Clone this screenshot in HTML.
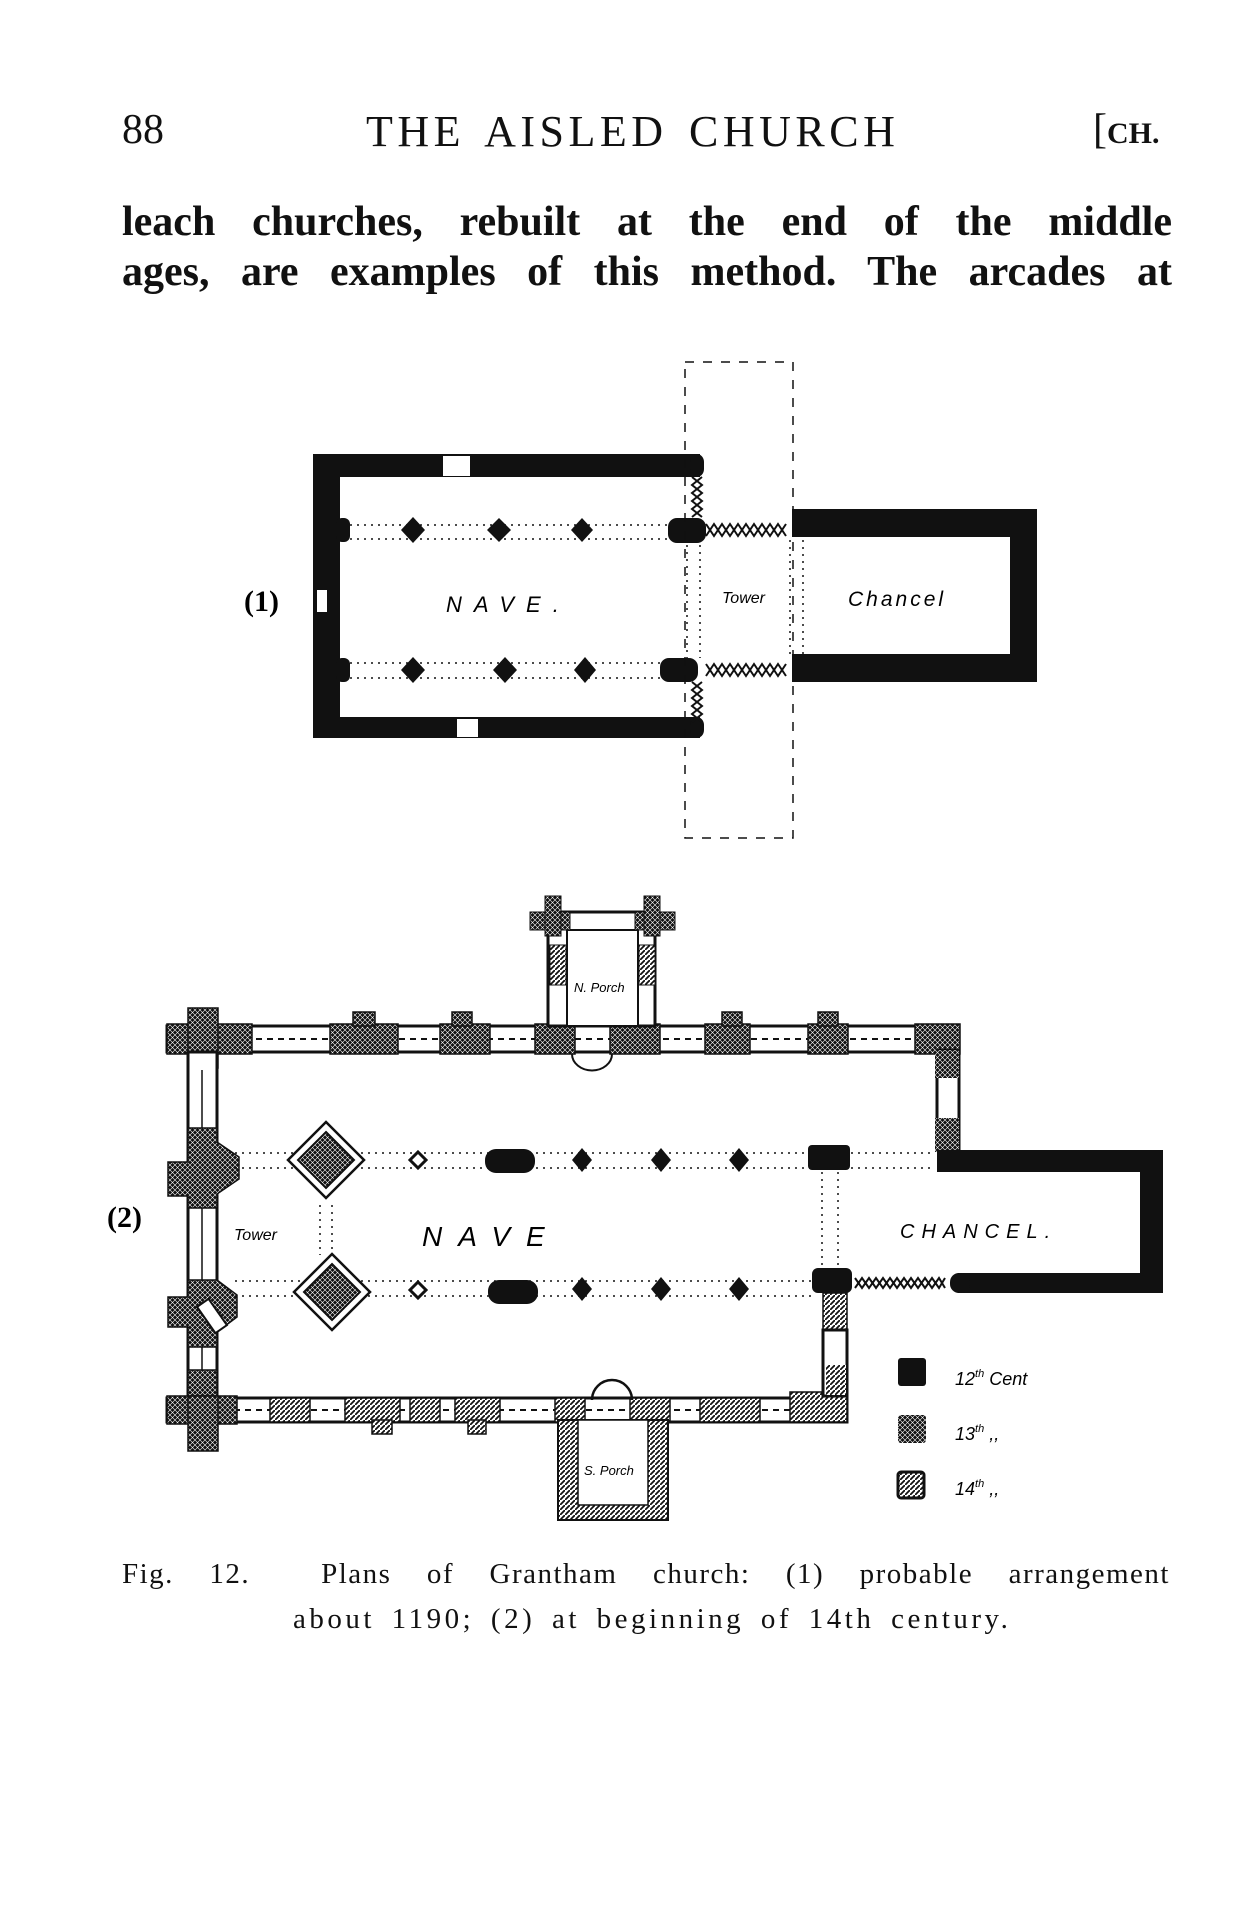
<!DOCTYPE html>
<html><head><meta charset="utf-8"><style>
html,body{margin:0;padding:0;background:#fff;}
body{width:1250px;height:1918px;overflow:hidden;position:relative;font-family:"Liberation Serif",serif;color:#111;}
.t{position:absolute;white-space:nowrap;}
</style></head><body>
<div class="t" style="left:122px;top:106px;font-size:42px;">88</div>
<div class="t" style="left:366px;top:106px;font-size:44px;letter-spacing:4.5px;word-spacing:6px;">THE AISLED CHURCH</div>
<div class="t" style="left:1093px;top:106px;font-size:42px;">[<span style="font-size:30px;font-weight:bold">CH.</span></div>
<div class="t" style="left:122px;top:198px;font-size:42px;font-weight:bold;width:1050px;text-align:justify;text-align-last:justify;white-space:normal;">leach churches, rebuilt at the end of the middle</div>
<div class="t" style="left:122px;top:248px;font-size:42px;font-weight:bold;width:1050px;text-align:justify;text-align-last:justify;white-space:normal;">ages, are examples of this method. The arcades at</div>

<svg width="1250" height="1918" style="position:absolute;left:0;top:0" xmlns="http://www.w3.org/2000/svg">
<defs>
<pattern id="xh" width="5" height="5" patternUnits="userSpaceOnUse"><rect width="5" height="5" fill="#111"/><path d="M0,0L5,5M5,0L0,5" stroke="#fff" stroke-width="0.6"/></pattern>
<pattern id="dh" width="5" height="5" patternUnits="userSpaceOnUse"><rect width="5" height="5" fill="#fff"/><path d="M-1,6L6,-1" stroke="#111" stroke-width="1.8"/></pattern>
</defs>
<g font-family="Liberation Sans, sans-serif" font-style="italic">
<!-- FIG 1 -->
<path d="M313,454H700V477H340V717H700V738H313Z" fill="#111"/>
<rect x="690" y="454" width="14" height="23" rx="8" fill="#111"/>
<rect x="690" y="717" width="14" height="21" rx="8" fill="#111"/>
<rect x="443" y="456" width="27" height="20" fill="#fff"/>
<rect x="457" y="719" width="21" height="18" fill="#fff"/>
<rect x="317" y="590" width="10" height="22" fill="#fff"/>
<rect x="336" y="518" width="14" height="24" rx="6" fill="#111"/>
<rect x="336" y="658" width="14" height="24" rx="6" fill="#111"/>
<g stroke="#111" stroke-width="1.5" stroke-dasharray="2,5" fill="none">
<path d="M350,525H668M350,539H668M350,663H660M350,678H660"/>
<path d="M687,545V658M700,545V658M790,540V654M803,540V654"/>
</g>
<g fill="#111">
<path d="M413,517l12,13l-12,13l-12,-13z"/><path d="M499,518l12,12l-12,12l-12,-12z"/><path d="M582,518l11,12l-11,12l-11,-12z"/>
<path d="M413,657l12,13l-12,13l-12,-13z"/><path d="M505,657l12,13l-12,13l-12,-13z"/><path d="M585,657l11,13l-11,13l-11,-13z"/>
<rect x="668" y="518" width="38" height="25" rx="9"/>
<rect x="660" y="658" width="38" height="24" rx="9"/>
<path d="M792,537V509H1037V682H792V654H1010V537Z"/>
</g>
<g stroke="#111" stroke-width="2" fill="none">
<path d="M706,524l8,12l8,-12l8,12l8,-12l8,12l8,-12l8,12l8,-12l8,12l8,-12"/>
<path d="M706,536l8,-12l8,12l8,-12l8,12l8,-12l8,12l8,-12l8,12l8,-12l8,12"/>
<path d="M706,664l8,12l8,-12l8,12l8,-12l8,12l8,-12l8,12l8,-12l8,12l8,-12"/>
<path d="M706,676l8,-12l8,12l8,-12l8,12l8,-12l8,12l8,-12l8,12l8,-12l8,12"/>
<path d="M692,477l10,8l-10,8l10,8l-10,8l10,8"/><path d="M702,477l-10,8l10,8l-10,8l10,8l-10,8"/>
<path d="M692,682l10,8l-10,8l10,8l-10,8l10,8"/><path d="M702,682l-10,8l10,8l-10,8l10,8l-10,8"/>
</g>
<g stroke="#111" stroke-width="1.5" stroke-dasharray="9,9" fill="none">
<path d="M685,362H793V838H685Z"/>
</g>
<text x="244" y="611" font-family="Liberation Serif, serif" font-style="normal" font-size="30" font-weight="bold">(1)</text>
<text x="446" y="612" font-size="22" letter-spacing="12">NAVE.</text>
<text x="722" y="603" font-size="16">Tower</text>
<text x="848" y="606" font-size="21" letter-spacing="3">Chancel</text>

<!-- FIG 2 -->
<rect x="167" y="1026" width="790" height="26" fill="#fff" stroke="#111" stroke-width="3"/>
<path d="M190,1039H950" stroke="#111" stroke-width="2" stroke-dasharray="6,5"/>
<g fill="url(#xh)" stroke="#111" stroke-width="1.5">
<rect x="167" y="1024" width="85" height="30"/>
<rect x="188" y="1008" width="30" height="60"/>
<rect x="330" y="1024" width="68" height="30"/><rect x="353" y="1012" width="22" height="14"/>
<rect x="440" y="1024" width="50" height="30"/><rect x="452" y="1012" width="20" height="14"/>
<rect x="535" y="1024" width="40" height="30"/>
<rect x="610" y="1024" width="50" height="30"/>
<rect x="705" y="1024" width="45" height="30"/><rect x="722" y="1012" width="20" height="14"/>
<rect x="808" y="1024" width="40" height="30"/><rect x="818" y="1012" width="20" height="14"/>
<rect x="915" y="1024" width="45" height="30"/>
</g>
<rect x="937" y="1050" width="22" height="100" fill="#fff" stroke="#111" stroke-width="3"/>
<rect x="935" y="1050" width="24" height="28" fill="url(#xh)"/><rect x="935" y="1118" width="24" height="34" fill="url(#xh)"/>
<rect x="548" y="912" width="107" height="114" fill="#fff" stroke="#111" stroke-width="3"/>
<rect x="567" y="930" width="71" height="96" fill="#fff" stroke="#111" stroke-width="2"/>
<g fill="url(#xh)" stroke="#111" stroke-width="1">
<rect x="530" y="912" width="40" height="18"/><rect x="545" y="896" width="16" height="40"/>
<rect x="635" y="912" width="40" height="18"/><rect x="644" y="896" width="16" height="40"/>
</g>
<g fill="url(#dh)" stroke="#111" stroke-width="1"><rect x="550" y="945" width="16" height="40"/><rect x="639" y="945" width="16" height="40"/></g>
<path d="M572,1054a17,14 0 0 0 40,0" fill="none" stroke="#111" stroke-width="2"/>
<text x="574" y="992" font-size="13">N. Porch</text>
<rect x="188" y="1052" width="29" height="345" fill="#fff" stroke="#111" stroke-width="3"/>
<path d="M202,1070V1380" stroke="#111" stroke-width="1.5"/>
<g fill="url(#xh)" stroke="#111" stroke-width="1.5">
<path d="M188,1128h29v14l22,15v22l-22,15v14h-29v-12h-20v-34h20z"/>
<path d="M188,1280h29l20,15v22l-20,15v15h-29v-20h-20v-30h20z"/>
<rect x="188" y="1370" width="29" height="30"/>
</g>
<rect x="205" y="1300" width="14" height="32" fill="#fff" stroke="#111" stroke-width="2" transform="rotate(-35 212 1316)"/>
<rect x="167" y="1398" width="680" height="24" fill="#fff" stroke="#111" stroke-width="3"/>
<path d="M190,1410H830" stroke="#111" stroke-width="2" stroke-dasharray="6,5"/>
<g fill="url(#xh)" stroke="#111" stroke-width="1.5">
<rect x="167" y="1396" width="70" height="28"/><rect x="188" y="1396" width="30" height="55"/>
</g>
<g fill="url(#dh)" stroke="#111" stroke-width="1.5">
<rect x="270" y="1398" width="40" height="24"/>
<rect x="345" y="1398" width="55" height="24"/><rect x="372" y="1420" width="20" height="14"/>
<rect x="410" y="1398" width="30" height="24"/>
<rect x="455" y="1398" width="45" height="24"/><rect x="468" y="1420" width="18" height="14"/>
<rect x="555" y="1398" width="30" height="24"/>
<rect x="630" y="1398" width="40" height="24"/>
<rect x="700" y="1398" width="60" height="24"/>
<rect x="790" y="1392" width="57" height="30"/>
<rect x="823" y="1293" width="24" height="40"/>
</g>
<rect x="823" y="1330" width="24" height="66" fill="#fff" stroke="#111" stroke-width="3"/>
<rect x="826" y="1365" width="20" height="30" fill="url(#dh)"/>
<rect x="558" y="1420" width="110" height="100" fill="url(#dh)" stroke="#111" stroke-width="2"/>
<rect x="578" y="1420" width="70" height="85" fill="#fff" stroke="#111" stroke-width="1.5"/>
<path d="M592,1400a20,20 0 0 1 40,0" fill="none" stroke="#111" stroke-width="2.5"/>
<text x="584" y="1475" font-size="13">S. Porch</text>
<path d="M937,1172V1150H1163V1293H958V1273H1140V1172Z" fill="#111"/>
<rect x="950" y="1273" width="20" height="20" rx="9" fill="#111"/>
<g stroke="#111" stroke-width="1.5" stroke-dasharray="2,5" fill="none">
<path d="M235,1153H935M235,1168H935M235,1281H812M235,1296H812"/>
<path d="M320,1205V1255M332,1205V1255M822,1172V1266M838,1172V1266"/>
</g>
<g stroke="#111" stroke-width="2" fill="none">
<path d="M855,1278l7,10l7,-10l7,10l7,-10l7,10l7,-10l7,10l7,-10l7,10l7,-10l7,10l7,-10l6,10"/>
<path d="M855,1288l7,-10l7,10l7,-10l7,10l7,-10l7,10l7,-10l7,10l7,-10l7,10l7,-10l7,10l6,-10"/>
</g>
<g>
<path d="M326,1122l38,38l-38,38l-38,-38z" fill="#fff" stroke="#111" stroke-width="2.5"/>
<path d="M326,1132l28,28l-28,28l-28,-28z" fill="url(#xh)" stroke="#111" stroke-width="2"/>
<path d="M332,1254l38,38l-38,38l-38,-38z" fill="#fff" stroke="#111" stroke-width="2.5"/>
<path d="M332,1264l28,28l-28,28l-28,-28z" fill="url(#xh)" stroke="#111" stroke-width="2"/>
</g>
<g fill="#fff" stroke="#111" stroke-width="3">
<path d="M418,1152l8,8l-8,8l-8,-8z"/><path d="M418,1282l8,8l-8,8l-8,-8z"/>
</g>
<g fill="#111">
<rect x="485" y="1149" width="50" height="24" rx="11"/><rect x="488" y="1280" width="50" height="24" rx="11"/>
<path d="M582,1148l10,12l-10,12l-10,-12z"/><path d="M661,1148l10,12l-10,12l-10,-12z"/><path d="M739,1148l10,12l-10,12l-10,-12z"/>
<path d="M582,1277l10,12l-10,12l-10,-12z"/><path d="M661,1277l10,12l-10,12l-10,-12z"/><path d="M739,1277l10,12l-10,12l-10,-12z"/>
<rect x="808" y="1145" width="42" height="25" rx="4"/>
<rect x="812" y="1268" width="40" height="25" rx="6"/>
</g>
<text x="107" y="1227" font-family="Liberation Serif, serif" font-style="normal" font-size="30" font-weight="bold">(2)</text>
<text x="234" y="1240" font-size="16">Tower</text>
<text x="422" y="1246" font-size="28" letter-spacing="16">NAVE</text>
<text x="900" y="1238" font-size="20" letter-spacing="7">CHANCEL.</text>
<rect x="898" y="1358" width="28" height="28" rx="3" fill="#111"/>
<rect x="898" y="1415" width="28" height="28" rx="3" fill="url(#xh)"/>
<rect x="898" y="1472" width="26" height="26" rx="3" fill="url(#dh)" stroke="#111" stroke-width="3"/>
<text x="955" y="1385" font-size="18">12<tspan dy="-8" font-size="11">th</tspan><tspan dy="8"> Cent</tspan></text>
<text x="955" y="1440" font-size="18">13<tspan dy="-8" font-size="11">th</tspan><tspan dy="8"> ,,</tspan></text>
<text x="955" y="1495" font-size="18">14<tspan dy="-8" font-size="11">th</tspan><tspan dy="8"> ,,</tspan></text>
</g>
</svg>

<div class="t" style="left:122px;top:1558px;font-size:29px;width:1048px;text-align:justify;text-align-last:justify;white-space:normal;letter-spacing:1.5px;">Fig. 12. &nbsp;Plans of Grantham church: (1) probable arrangement</div>
<div class="t" style="left:293px;top:1603px;font-size:29px;letter-spacing:3.5px;word-spacing:6px;">about 1190; (2) at beginning of 14th century.</div>
</body></html>
